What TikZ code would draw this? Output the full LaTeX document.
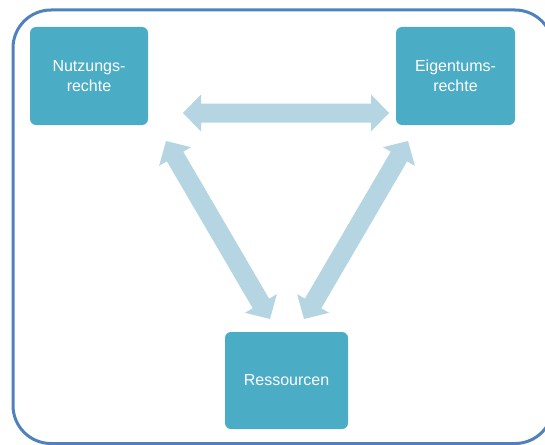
\documentclass[tikz,border=0pt]{standalone}
\usepackage{fontspec}
\setmainfont{Liberation Sans}
\usetikzlibrary{calc}
\definecolor{boxfill}{HTML}{4BACC6}
\definecolor{arrowfill}{HTML}{B4D5E1}
\definecolor{framecol}{HTML}{4F81BD}
\tikzset{
  ibox/.style={fill=boxfill, draw=none, rounded corners=6pt, text=white,
    align=center, inner sep=0pt, font=\fontsize{16}{20.5}\selectfont},
}
\newcommand\fatarrow[2]{%
  \fill[arrowfill] let \p1=($(#2)-(#1)$), \n1={atan2(\y1,\x1)}, \n2={veclen(\x1,\y1)} in
    [shift={(#1)}, rotate=\n1]
    (0,0) -- (18,18.5) -- (18,9.5) -- (\n2-18,9.5) -- (\n2-18,18.5) -- (\n2,0)
    -- (\n2-18,-18.5) -- (\n2-18,-9.5) -- (18,-9.5) -- (18,-18.5) -- cycle;}
\begin{document}
\begin{tikzpicture}[x=1pt,y=-1pt]
\useasboundingbox (0,0) rectangle (545,444);
\begin{scope}
\clip (0,0) rectangle (545,444);
\draw[framecol, line width=3pt, rounded corners=38pt] (13,10) rectangle (553,443.5);
\end{scope}
\node[ibox, minimum width=118pt, minimum height=98pt] (N) at (89,76) {Nutzungs-\\rechte};
\node[ibox, minimum width=119pt, minimum height=98pt] (E) at (455.5,76) {Eigentums-\\rechte};
\node[ibox, minimum width=123pt, minimum height=97pt] (R) at (286.5,380.5) {Ressourcen};
\coordinate (h1) at (183,113);
\coordinate (h2) at (389,113);
\coordinate (l1) at (166,141);
\coordinate (l2) at (270,319);
\coordinate (r1) at (408,141);
\coordinate (r2) at (304,319);
\fatarrow{h1}{h2}
\fatarrow{l1}{l2}
\fatarrow{r1}{r2}
\end{tikzpicture}
\end{document}
